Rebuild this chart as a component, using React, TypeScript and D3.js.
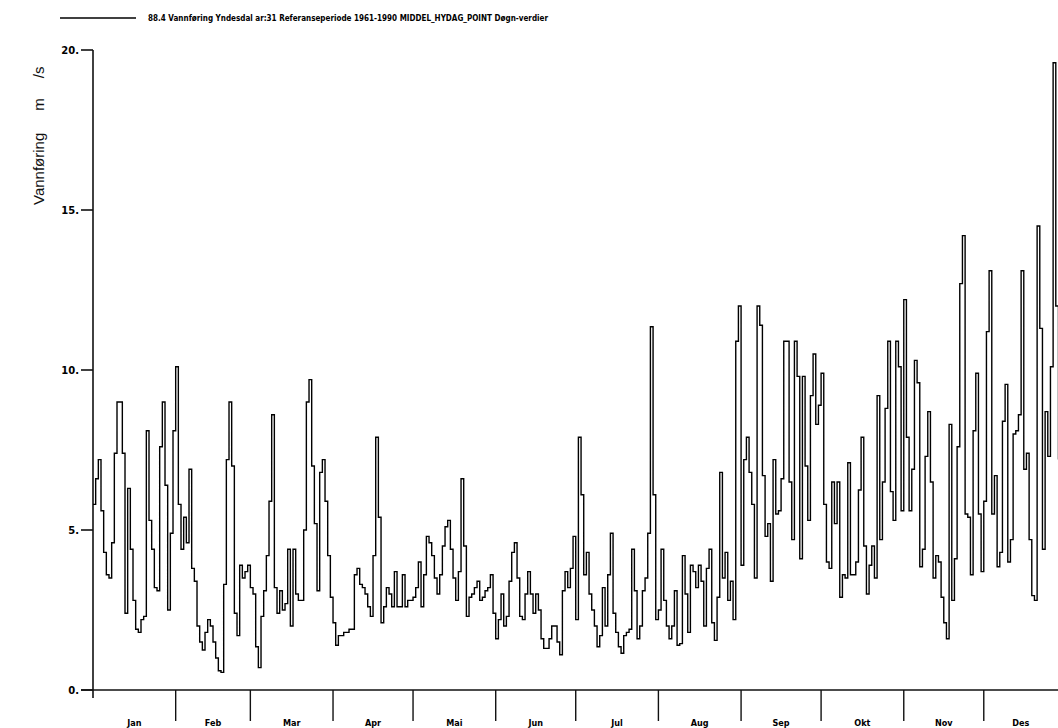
import React, { useEffect, useRef } from "react";
import * as d3 from "d3";

// daily discharge, m3/s
const jan = [5.8, 6.6, 7.2, 5.6, 4.3, 3.6, 3.5, 4.6, 7.4, 9.0, 9.0, 7.4, 2.4, 6.3, 4.4, 2.8, 1.9, 1.8, 2.2, 2.3, 8.1, 5.3, 4.4, 3.2, 3.1, 7.6, 9.0, 6.4, 2.5, 4.9, 8.1];
const feb = [10.1, 5.8, 4.4, 5.4, 4.6, 6.9, 3.8, 3.4, 2.0, 1.5, 1.25, 1.8, 2.2, 2.0, 1.5, 1.0, 0.6, 0.55, 3.3, 7.2, 9.0, 7.0, 2.4, 1.7, 3.9, 3.5, 3.7, 3.9];
const mar = [3.2, 3.0, 1.35, 0.7, 2.3, 3.1, 4.2, 5.9, 8.6, 3.2, 2.4, 3.1, 2.5, 2.7, 4.4, 2.0, 4.4, 3.0, 2.8, 2.8, 5.0, 9.0, 9.7, 7.0, 5.2, 3.1, 6.8, 7.2, 5.9, 4.2, 2.9];
const apr = [2.1, 1.4, 1.7, 1.7, 1.8, 1.8, 1.9, 1.9, 3.6, 3.8, 3.3, 3.2, 3.0, 2.6, 2.3, 4.2, 7.9, 5.4, 2.1, 2.6, 3.2, 3.0, 2.6, 3.7, 2.6, 2.6, 3.6, 2.6, 2.8, 2.8];
const mai = [2.9, 3.2, 4.0, 2.6, 3.6, 4.8, 4.6, 4.2, 3.5, 3.0, 3.6, 4.5, 5.1, 5.3, 4.4, 3.5, 2.8, 3.7, 6.6, 4.5, 2.3, 2.9, 3.0, 3.2, 3.4, 2.8, 2.9, 3.1, 3.2, 3.6, 2.4];
const jun = [1.6, 2.2, 3.0, 2.0, 2.3, 3.4, 4.3, 4.6, 3.5, 2.3, 2.2, 3.0, 3.7, 3.0, 2.4, 3.0, 2.5, 1.6, 1.3, 1.3, 1.6, 2.0, 2.0, 1.5, 1.1, 3.1, 3.7, 3.2, 3.8, 4.8];
const jul = [2.2, 7.9, 6.1, 3.6, 4.3, 3.0, 2.5, 2.0, 1.35, 1.7, 3.2, 2.0, 3.6, 4.9, 2.4, 1.8, 1.35, 1.15, 1.7, 1.8, 1.9, 4.4, 3.1, 1.6, 2.0, 3.1, 3.5, 4.9, 11.35, 6.1, 2.2];
const aug = [2.5, 4.4, 2.8, 2.0, 1.6, 2.0, 3.1, 1.4, 1.45, 4.2, 3.0, 1.8, 3.9, 3.7, 3.2, 3.9, 3.4, 2.0, 3.8, 4.4, 2.1, 1.55, 2.9, 6.8, 3.5, 4.3, 2.8, 3.4, 2.2, 10.9, 12.0];
const sep = [3.9, 7.2, 7.9, 6.8, 5.8, 3.5, 12.0, 11.4, 6.7, 4.8, 5.2, 3.4, 7.2, 5.5, 5.6, 6.6, 10.9, 10.9, 6.5, 4.7, 10.9, 9.8, 4.1, 9.8, 7.0, 5.3, 9.2, 10.5, 8.3, 8.9];
const okt = [9.9, 5.8, 4.0, 3.8, 6.5, 5.2, 6.5, 2.9, 3.6, 3.5, 7.1, 3.6, 3.6, 4.0, 6.25, 7.9, 4.5, 3.0, 3.9, 4.5, 3.5, 9.2, 4.7, 6.5, 8.8, 10.9, 6.2, 5.3, 10.9, 10.1, 5.6];
const nov = [12.2, 7.9, 5.6, 6.9, 10.3, 9.6, 3.85, 4.4, 7.3, 8.7, 6.5, 3.5, 4.2, 4.0, 2.9, 2.1, 1.6, 8.3, 2.8, 4.1, 7.6, 12.7, 14.2, 5.5, 5.4, 3.6, 8.1, 9.9, 5.5, 3.7];
const des = [5.9, 11.2, 13.1, 5.5, 6.7, 3.85, 4.3, 8.4, 9.55, 4.0, 4.7, 8.0, 8.1, 8.6, 13.1, 6.9, 7.4, 4.7, 2.95, 2.8, 14.5, 11.3, 4.4, 8.7, 7.3, 10.1, 19.6, 12.0, 7.2];

const monthLabels = ["Jan", "Feb", "Mar", "Apr", "Mai", "Jun", "Jul", "Aug", "Sep", "Okt", "Nov", "Des"];
const yTicks = [0, 5, 10, 15, 20];
const title = "88.4 Vannføring Yndesdal ar:31 Referanseperiode 1961-1990 MIDDEL_HYDAG_POINT Døgn-verdier";

export default function App() {
  const ref = useRef<SVGSVGElement>(null);

  useEffect(() => {
    const svg = d3.select(ref.current);
    svg.selectAll("*").remove();

    const values = [...jan, ...feb, ...mar, ...apr, ...mai, ...jun, ...jul, ...aug, ...sep, ...okt, ...nov, ...des];
    const start = new Date(Date.UTC(1990, 0, 1));
    const end = new Date(Date.UTC(1991, 0, 1));
    const data = values.map((v, i) => ({ date: d3.utcDay.offset(start, i), v }));

    const left = 93;
    const pxPerDay = 2.667;
    const x = d3.scaleUtc().domain([start, end]).range([left, left + 365 * pxPerDay]);
    const y = d3.scaleLinear().domain([0, 20]).range([690, 50]);

    const bold = "'DejaVu Sans', sans-serif";

    // y axis
    svg.append("line").attr("x1", left).attr("x2", left).attr("y1", y(20)).attr("y2", y(0) + 8)
      .attr("stroke", "#111").attr("stroke-width", 1.6);
    svg.selectAll(".ytick").data(yTicks).join("line").attr("class", "ytick")
      .attr("x1", left - 12).attr("x2", left).attr("y1", d => y(d)).attr("y2", d => y(d))
      .attr("stroke", "#111").attr("stroke-width", 1.6);
    svg.selectAll(".ylab").data(yTicks).join("text").attr("class", "ylab")
      .attr("x", left - 14).attr("y", d => y(d) + 4).attr("text-anchor", "end")
      .attr("font-family", bold).attr("font-weight", "bold").attr("font-size", 10)
      .text(d => `${d}.`);

    // x axis
    svg.append("line").attr("x1", left - 12).attr("x2", 1058).attr("y1", y(0)).attr("y2", y(0))
      .attr("stroke", "#111").attr("stroke-width", 1.6);
    const months = d3.utcMonth.range(start, end);
    svg.selectAll(".xtick").data(months.slice(1)).join("line").attr("class", "xtick")
      .attr("x1", d => x(d)).attr("x2", d => x(d)).attr("y1", y(0)).attr("y2", y(0) + 31)
      .attr("stroke", "#111").attr("stroke-width", 1.4);
    svg.selectAll(".xlab").data(months).join("text").attr("class", "xlab")
      .attr("x", d => (x(d) + Math.min(x(d3.utcMonth.offset(d, 1)), 1058)) / 2).attr("y", 726)
      .attr("text-anchor", "middle").attr("font-family", bold).attr("font-weight", "bold")
      .attr("font-size", 9).attr("font-stretch", "condensed")
      .text((d, i) => monthLabels[i]);

    // series
    const line = d3.line<{ date: Date; v: number }>().x(d => x(d.date)).y(d => y(d.v)).curve(d3.curveStepAfter);
    svg.append("path").datum(data).attr("d", line).attr("fill", "none")
      .attr("stroke", "#000").attr("stroke-width", 1.4);

    // legend + title
    svg.append("line").attr("x1", 60).attr("x2", 136).attr("y1", 18).attr("y2", 18)
      .attr("stroke", "#000").attr("stroke-width", 1.3);
    svg.append("text").attr("x", 148).attr("y", 21).attr("font-family", bold).attr("font-weight", "bold")
      .attr("font-size", 9).attr("textLength", 400).attr("lengthAdjust", "spacingAndGlyphs").text(title);

    // y label
    const yl = svg.append("text").attr("transform", "translate(44,205) rotate(-90)")
      .attr("font-family", "'Liberation Sans', Arial, sans-serif").attr("font-size", 15).attr("fill", "#111");
    yl.append("tspan").text("Vannføring");
    yl.append("tspan").attr("dx", 22).text("m");
    yl.append("tspan").attr("dx", 20).text("/s");
  }, []);

  return <svg ref={ref} width={1058} height={728} style={{ position: "absolute", left: 0, top: 0, background: "#fff" }} />;
}
